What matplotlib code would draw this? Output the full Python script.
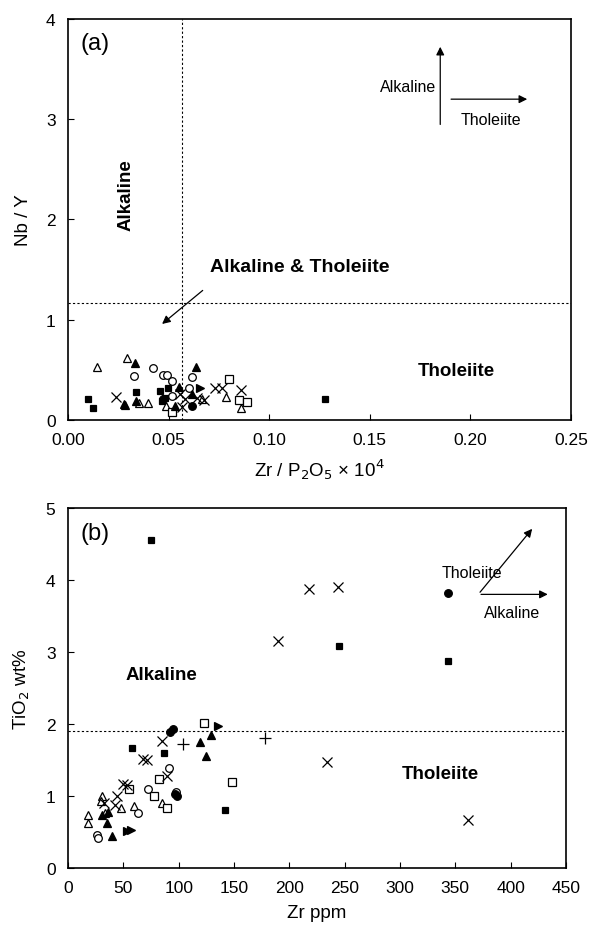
import matplotlib
matplotlib.use("Agg")
import matplotlib.pyplot as plt

plt.rcParams['font.family'] = ['Liberation Sans', 'DejaVu Sans']

# ---- panel (a): Nb/Y vs Zr/P2O5 x 10^4 ----
a_sq_f_x = [0.0098, 0.0126, 0.0338, 0.0457, 0.0499, 0.0466, 0.0482, 0.1277]
a_sq_f_y = [0.21, 0.12, 0.28, 0.29, 0.32, 0.19, 0.22, 0.21]
a_sq_o_x = [0.0515, 0.080, 0.085, 0.0888]
a_sq_o_y = [0.08, 0.41, 0.20, 0.18]
a_tri_o_x = [0.0143, 0.0292, 0.0282, 0.0355, 0.0396, 0.0487, 0.0664, 0.0784, 0.0858]
a_tri_o_y = [0.53, 0.62, 0.15, 0.17, 0.17, 0.14, 0.21, 0.23, 0.12]
a_tri_f_x = [0.0333, 0.0636, 0.028, 0.0338, 0.0532, 0.0553, 0.0615]
a_tri_f_y = [0.57, 0.53, 0.16, 0.19, 0.14, 0.33, 0.26]
a_circ_o_x = [0.0328, 0.0424, 0.0474, 0.0494, 0.0515, 0.0615, 0.0515, 0.0603]
a_circ_o_y = [0.44, 0.52, 0.45, 0.45, 0.39, 0.43, 0.24, 0.32]
a_circ_f_x = [0.0615, 0.047]
a_circ_f_y = [0.14, 0.21]
a_cross_x = [0.0239, 0.0557, 0.0581, 0.0565, 0.064, 0.0676, 0.0731, 0.0764, 0.0858]
a_cross_y = [0.23, 0.26, 0.21, 0.13, 0.22, 0.20, 0.32, 0.32, 0.30]
a_rtri_x = [0.0656]
a_rtri_y = [0.32]
a_vline = 0.0567
a_hline = 1.17

# ---- panel (b): TiO2 vs Zr ----
b_sq_f_x = [57.6, 87.1, 142, 75, 245, 343]
b_sq_f_y = [1.66, 1.59, 0.81, 4.55, 3.08, 2.88]
b_sq_o_x = [55.4, 82.3, 77.8, 89.8, 123.3, 148]
b_sq_o_y = [1.10, 1.23, 1.0, 0.83, 2.02, 1.19]
b_tri_o_x = [17.8, 18.4, 30.4, 29.5, 33.5, 47.9, 59.7, 84.7]
b_tri_o_y = [0.73, 0.62, 1.00, 0.93, 0.76, 0.83, 0.86, 0.90]
b_tri_f_x = [30.4, 36.4, 35, 39.5, 119.3, 129, 124.5]
b_tri_f_y = [0.74, 0.78, 0.625, 0.44, 1.75, 1.84, 1.56]
b_circ_o_x = [26.5, 26.8, 63, 72.6, 91.3, 97.6]
b_circ_o_y = [0.46, 0.42, 0.76, 1.10, 1.39, 1.06]
b_circ_f_x = [92.2, 95.2, 98.8, 96.7, 343]
b_circ_f_y = [1.89, 1.93, 1.0, 1.03, 3.82]
b_cross_x = [32.8, 44.6, 42.5, 50, 53, 67.5, 71.7, 84.7, 89.8, 218, 244, 190, 234, 361]
b_cross_y = [0.90, 1.0, 0.87, 1.17, 1.15, 1.52, 1.50, 1.77, 1.28, 3.87, 3.9, 3.15, 1.47, 0.66]
b_rtri_x = [53, 56.7, 135.9]
b_rtri_y = [0.52, 0.53, 1.97]
b_plus_x = [104.3, 178]
b_plus_y = [1.72, 1.8]
b_hline = 1.9

fig = plt.figure(figsize=(5.96, 9.37), dpi=100)
ax1 = fig.add_axes([0.1141, 0.5507, 0.844, 0.428])
ax2 = fig.add_axes([0.1141, 0.0726, 0.8356, 0.3842])

ms = 5.5
def pts(ax, x, y, marker, filled, size=ms, mew=0.9):
    if marker in ('x', '+'):
        ax.plot(x, y, linestyle='none', marker=marker, color='black', markersize=size, mew=mew)
    else:
        ax.plot(x, y, linestyle='none', marker=marker, markersize=size, mew=mew,
                markeredgecolor='black', markerfacecolor='black' if filled else 'white')

pts(ax1, a_tri_o_x, a_tri_o_y, '^', False)
pts(ax1, a_sq_o_x, a_sq_o_y, 's', False)
pts(ax1, a_circ_o_x, a_circ_o_y, 'o', False)
pts(ax1, a_sq_f_x, a_sq_f_y, 's', True, size=5)
pts(ax1, a_tri_f_x, a_tri_f_y, '^', True)
pts(ax1, a_circ_f_x, a_circ_f_y, 'o', True)
pts(ax1, a_cross_x, a_cross_y, 'x', False, size=6.5)
pts(ax1, a_rtri_x, a_rtri_y, '>', True)

pts(ax2, b_tri_o_x, b_tri_o_y, '^', False)
pts(ax2, b_sq_o_x, b_sq_o_y, 's', False)
pts(ax2, b_circ_o_x, b_circ_o_y, 'o', False)
pts(ax2, b_sq_f_x, b_sq_f_y, 's', True, size=5)
pts(ax2, b_tri_f_x, b_tri_f_y, '^', True)
pts(ax2, b_circ_f_x, b_circ_f_y, 'o', True)
pts(ax2, b_cross_x, b_cross_y, 'x', False, size=6.5)
pts(ax2, b_rtri_x, b_rtri_y, '>', True)
pts(ax2, b_plus_x, b_plus_y, '+', False, size=8)

ax1.axvline(a_vline, color='black', linestyle=(0, (2, 2)), linewidth=0.8)
ax1.axhline(a_hline, color='black', linestyle=(0, (2, 2)), linewidth=0.8)
ax2.axhline(b_hline, color='black', linestyle=(0, (2, 2)), linewidth=0.8)

ax1.set_xlim(0, 0.25)
ax1.set_ylim(0, 4)
ax1.set_xticks([0, 0.05, 0.10, 0.15, 0.20, 0.25])
ax1.set_xticklabels(['0.00', '0.05', '0.10', '0.15', '0.20', '0.25'])
ax1.set_yticks([0, 1, 2, 3, 4])
ax2.set_xlim(0, 450)
ax2.set_ylim(0, 5)
ax2.set_xticks(range(0, 451, 50))
ax2.set_yticks([0, 1, 2, 3, 4, 5])

for ax in (ax1, ax2):
    for s in ax.spines.values():
        s.set_linewidth(1.2)
    ax.tick_params(direction='in', length=4, width=0.8, labelsize=12.5)
    ax.tick_params(axis='x', pad=9)
    ax.tick_params(axis='y', pad=9)

ax1.set_xlabel('Zr / P$_2$O$_5$ × 10$^4$', fontsize=13.5, labelpad=6)
ax1.set_ylabel('Nb / Y', fontsize=13.5, labelpad=10)
ax2.set_xlabel('Zr ppm', fontsize=13.5, labelpad=6)
ax2.set_ylabel('TiO$_2$ wt%', fontsize=13.5, labelpad=10)

# panel (a) annotations
ax1.text(0.025, 0.94, '(a)', transform=ax1.transAxes, fontsize=17, va='center')
ax1.text(0.029, 2.25, 'Alkaline', rotation=90, fontsize=13.5, fontweight='bold', ha='center', va='center')
ax1.text(0.115, 1.53, 'Alkaline & Tholeiite', fontsize=14, fontweight='bold', ha='center', va='center')
ax1.annotate('', xy=(0.0457, 0.94), xytext=(0.068, 1.31),
             arrowprops=dict(arrowstyle='-|>', color='black', lw=0.9, mutation_scale=12))
ax1.text(0.193, 0.49, 'Tholeiite', fontsize=13.5, fontweight='bold', ha='center', va='center')
ax1.annotate('', xy=(0.185, 3.75), xytext=(0.185, 2.92),
             arrowprops=dict(arrowstyle='-|>', color='black', lw=0.9, mutation_scale=12))
ax1.annotate('', xy=(0.2296, 3.2), xytext=(0.189, 3.2),
             arrowprops=dict(arrowstyle='-|>', color='black', lw=0.9, mutation_scale=12))
ax1.text(0.183, 3.33, 'Alkaline', fontsize=11.5, ha='right', va='center')
ax1.text(0.21, 3.0, 'Tholeiite', fontsize=11.5, ha='center', va='center')

# panel (b) annotations
ax2.text(0.025, 0.93, '(b)', transform=ax2.transAxes, fontsize=17, va='center')
ax2.text(84.7, 2.69, 'Alkaline', fontsize=13.5, fontweight='bold', ha='center', va='center')
ax2.text(336, 1.31, 'Tholeiite', fontsize=13.5, fontweight='bold', ha='center', va='center')
ax2.annotate('', xy=(421, 4.74), xytext=(370.7, 3.8),
             arrowprops=dict(arrowstyle='-|>', color='black', lw=0.9, mutation_scale=12))
ax2.annotate('', xy=(436, 3.8), xytext=(370.7, 3.8),
             arrowprops=dict(arrowstyle='-|>', color='black', lw=0.9, mutation_scale=12))
ax2.text(365, 4.1, 'Tholeiite', fontsize=11.5, ha='center', va='center')
ax2.text(401.5, 3.55, 'Alkaline', fontsize=11.5, ha='center', va='center')

fig.savefig('out.png', dpi=100, facecolor='white')
